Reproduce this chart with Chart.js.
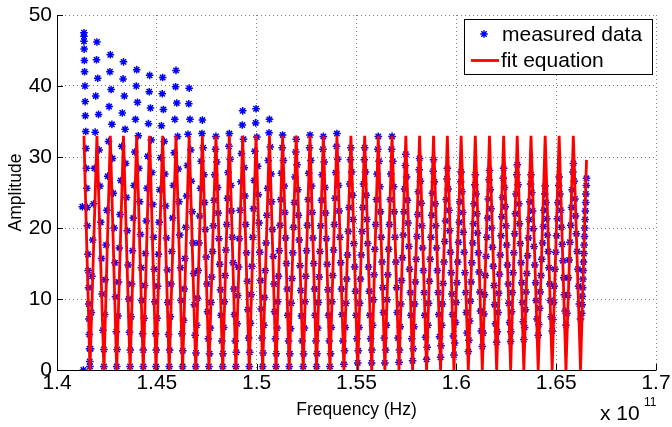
<!DOCTYPE html>
<html>
<head>
<meta charset="utf-8">
<script src="https://cdn.jsdelivr.net/npm/chart.js@4.4.0/dist/chart.umd.min.js"></script>
<style>
  html, body { margin: 0; padding: 0; background: #fff; }
  #wrap { width: 672px; height: 427px; }
</style>
</head>
<body>
<div id="wrap"><canvas id="chart" width="672" height="427"></canvas></div>
<script>
// axis ticks (frequency in units of 1e11 Hz)
const xTicks = [1.4, 1.45, 1.5, 1.55, 1.6, 1.65, 1.7];
const xTickLabels = ['1.4', '1.45', '1.5', '1.55', '1.6', '1.65', '1.7'];
const yTicks = [0, 10, 20, 30, 40, 50];
const yTickLabels = ['0', '10', '20', '30', '40', '50'];
const seriesNames = ['measured data', 'fit equation'];

// fit equation: peaks and troughs [freq, amplitude]
const fitCurve = [
  [1.4135,33],[1.4165,0],[1.4200,33],[1.4235,0],[1.4267,33],[1.4299,0],[1.4333,33],[1.4366,0],
  [1.4399,33],[1.4432,0],[1.4464,33],[1.4496,0],[1.4529,33],[1.4562,0],[1.4596,33],[1.4629,0],
  [1.4662,33],[1.4695,0],[1.4728,33],[1.4761,0],[1.4796,33],[1.4830,0],[1.4863,33],[1.4896,0],
  [1.4930,33],[1.4963,0],[1.4997,33],[1.5030,0],[1.5064,33],[1.5097,0],[1.5130,33],[1.5163,0],
  [1.5198,33],[1.5233,0],[1.5267,33],[1.5300,0],[1.5334,33],[1.5367,0],[1.5402,33],[1.5437,0],
  [1.5472,33],[1.5506,0],[1.5541,33],[1.5576,0],[1.5609,33],[1.5642,0],[1.5678,33],[1.5713,0],
  [1.5747,33],[1.5781,0],[1.5816,33],[1.5851,0],[1.5886,33],[1.5921,0],[1.5955,33],[1.5988,0],
  [1.6024,33],[1.6060,0],[1.6095,33],[1.6130,0],[1.6166,33],[1.6202,0],[1.6237,33],[1.6272,0],
  [1.6305,33],[1.6338,0],[1.6374,33],[1.6410,0],[1.6445,33],[1.6480,0],[1.6515,33],[1.6549,0],
  [1.6586,33],[1.6622,0],[1.6652,29.6]
];

// measured data, estimated column by column [freq, amplitude]
const measured = [
  [1.4127,23.0],[1.4132,0.0],[1.4135,47.5],[1.4135,47.0],[1.4135,46.3],[1.4136,45.2],[1.4137,43.6],[1.4138,42.0],[1.4140,40.0],[1.4141,37.8],[1.4142,35.8],[1.4144,33.6],[1.4145,31.2],[1.4147,28.4],[1.4149,25.6],[1.4151,22.9],[1.4152,20.3],[1.4155,16.3],[1.4156,14.0],[1.4158,11.6],[1.4159,9.3],[1.4160,7.2],[1.4162,5.0],[1.4163,3.0],[1.4164,1.2],[1.4165,0.5],
  [1.4168,3.0],[1.4172,8.1],[1.4175,13.2],[1.4179,18.3],[1.4183,23.4],[1.4187,28.4],[1.4191,33.5],[1.4194,38.6],[1.4198,43.7],[1.4200,46.2],[1.4204,41.1],[1.4208,36.0],[1.4211,31.0],[1.4215,25.9],[1.4219,20.8],[1.4223,15.7],[1.4226,10.7],[1.4230,5.6],[1.4235,0.5],
  [1.4235,2.9],[1.4239,7.8],[1.4242,12.7],[1.4246,17.6],[1.4250,22.5],[1.4254,27.3],[1.4258,32.2],[1.4261,37.1],[1.4265,42.0],[1.4267,44.4],[1.4271,39.5],[1.4275,34.6],[1.4278,29.8],[1.4282,24.9],[1.4286,20.0],[1.4290,15.1],[1.4293,10.3],[1.4297,5.4],[1.4299,0.5],
  [1.4301,2.9],[1.4305,7.6],[1.4308,12.4],[1.4312,17.2],[1.4316,21.9],[1.4320,26.7],[1.4324,31.5],[1.4327,36.2],[1.4331,41.0],[1.4333,43.4],[1.4337,38.6],[1.4341,33.9],[1.4344,29.1],[1.4348,24.3],[1.4352,19.6],[1.4356,14.8],[1.4359,10.0],[1.4363,5.3],[1.4366,0.5],
  [1.4367,2.8],[1.4371,7.5],[1.4374,12.1],[1.4378,16.8],[1.4382,21.4],[1.4386,26.0],[1.4390,30.7],[1.4393,35.3],[1.4397,40.0],[1.4399,42.3],[1.4403,37.7],[1.4407,33.0],[1.4410,28.4],[1.4414,23.7],[1.4418,19.1],[1.4422,14.4],[1.4425,9.8],[1.4429,5.1],[1.4432,0.5],
  [1.4432,2.8],[1.4436,7.3],[1.4439,11.9],[1.4443,16.4],[1.4447,21.0],[1.4451,25.6],[1.4455,30.1],[1.4458,34.7],[1.4462,39.2],[1.4464,41.5],[1.4468,36.9],[1.4472,32.4],[1.4475,27.8],[1.4479,23.3],[1.4483,18.7],[1.4487,14.2],[1.4490,9.6],[1.4494,5.1],[1.4496,0.5],
  [1.4497,2.8],[1.4501,7.3],[1.4504,11.8],[1.4508,16.3],[1.4512,20.8],[1.4516,25.4],[1.4520,29.9],[1.4523,34.4],[1.4527,38.9],[1.4529,41.2],[1.4533,36.7],[1.4537,32.2],[1.4540,27.6],[1.4544,23.1],[1.4548,18.6],[1.4552,14.1],[1.4555,9.5],[1.4559,5.0],[1.4562,0.5],
  [1.4564,2.8],[1.4568,7.5],[1.4571,12.1],[1.4575,16.7],[1.4579,21.4],[1.4583,26.0],[1.4587,30.6],[1.4590,35.3],[1.4594,39.9],[1.4596,42.2],[1.4600,37.6],[1.4604,32.9],[1.4607,28.3],[1.4611,23.7],[1.4615,19.0],[1.4619,14.4],[1.4622,9.8],[1.4626,5.1],[1.4629,0.5],
  [1.4630,2.7],[1.4634,7.0],[1.4637,11.4],[1.4641,15.7],[1.4645,20.1],[1.4649,24.5],[1.4653,28.8],[1.4656,33.2],[1.4660,37.5],[1.4662,39.7],[1.4666,35.3],[1.4670,31.0],[1.4673,26.6],[1.4677,22.3],[1.4681,17.9],[1.4685,13.6],[1.4688,9.2],[1.4692,4.9],[1.4695,0.5],
  [1.4696,2.4],[1.4700,6.3],[1.4703,10.1],[1.4707,14.0],[1.4711,17.9],[1.4715,21.7],[1.4719,25.6],[1.4722,29.4],[1.4726,33.3],[1.4728,35.2],[1.4732,31.3],[1.4736,27.5],[1.4739,23.6],[1.4743,19.8],[1.4747,15.9],[1.4751,12.1],[1.4754,8.2],[1.4758,4.4],[1.4761,0.5],
  [1.4764,2.3],[1.4768,5.9],[1.4771,9.5],[1.4775,13.1],[1.4779,16.7],[1.4783,20.3],[1.4787,23.9],[1.4790,27.5],[1.4794,31.1],[1.4796,32.9],[1.4800,29.3],[1.4804,25.7],[1.4807,22.1],[1.4811,18.5],[1.4815,14.9],[1.4819,11.3],[1.4822,7.7],[1.4826,4.1],[1.4830,0.5],
  [1.4831,2.3],[1.4835,6.0],[1.4838,9.6],[1.4842,13.3],[1.4846,16.9],[1.4850,20.5],[1.4854,24.2],[1.4857,27.8],[1.4861,31.5],[1.4863,33.3],[1.4867,29.7],[1.4871,26.0],[1.4874,22.4],[1.4878,18.7],[1.4882,15.1],[1.4886,11.4],[1.4889,7.8],[1.4893,4.1],[1.4896,0.5],
  [1.4898,2.5],[1.4902,6.5],[1.4905,10.5],[1.4909,14.5],[1.4913,18.5],[1.4917,22.5],[1.4921,26.5],[1.4924,30.5],[1.4928,34.5],[1.4930,36.5],[1.4934,32.5],[1.4938,28.5],[1.4941,24.5],[1.4945,20.5],[1.4949,16.5],[1.4953,12.5],[1.4956,8.5],[1.4960,4.5],[1.4963,0.5],
  [1.4965,2.5],[1.4969,6.6],[1.4972,10.6],[1.4976,14.6],[1.4980,18.7],[1.4984,22.7],[1.4988,26.7],[1.4991,30.8],[1.4995,34.8],[1.4997,36.8],[1.5001,32.8],[1.5005,28.7],[1.5008,24.7],[1.5012,20.7],[1.5016,16.6],[1.5020,12.6],[1.5023,8.6],[1.5027,4.5],[1.5030,0.5],
  [1.5032,2.4],[1.5036,6.3],[1.5039,10.2],[1.5043,14.0],[1.5047,17.9],[1.5051,21.8],[1.5055,25.6],[1.5058,29.5],[1.5062,33.4],[1.5064,35.3],[1.5068,31.4],[1.5072,27.6],[1.5075,23.7],[1.5079,19.8],[1.5083,16.0],[1.5087,12.1],[1.5090,8.2],[1.5094,4.4],[1.5097,0.5],
  [1.5098,2.3],[1.5102,5.9],[1.5105,9.6],[1.5109,13.2],[1.5113,16.8],[1.5117,20.4],[1.5121,24.0],[1.5124,27.7],[1.5128,31.3],[1.5130,33.1],[1.5134,29.5],[1.5138,25.9],[1.5141,22.2],[1.5145,18.6],[1.5149,15.0],[1.5153,11.4],[1.5156,7.7],[1.5160,4.1],[1.5163,0.5],
  [1.5166,2.3],[1.5170,5.8],[1.5173,9.4],[1.5177,12.9],[1.5181,16.5],[1.5185,20.1],[1.5189,23.6],[1.5192,27.2],[1.5196,30.7],[1.5198,32.5],[1.5202,28.9],[1.5206,25.4],[1.5209,21.8],[1.5213,18.3],[1.5217,14.7],[1.5221,11.2],[1.5224,7.6],[1.5228,4.1],[1.5233,0.5],
  [1.5235,2.3],[1.5239,5.9],[1.5242,9.6],[1.5246,13.2],[1.5250,16.8],[1.5254,20.4],[1.5258,24.0],[1.5261,27.7],[1.5265,31.3],[1.5267,33.1],[1.5271,29.5],[1.5275,25.9],[1.5278,22.2],[1.5282,18.6],[1.5286,15.0],[1.5290,11.4],[1.5293,7.7],[1.5297,4.1],[1.5300,0.5],
  [1.5302,2.3],[1.5306,5.9],[1.5309,9.5],[1.5313,13.1],[1.5317,16.7],[1.5321,20.3],[1.5325,23.9],[1.5328,27.5],[1.5332,31.1],[1.5334,32.9],[1.5338,29.3],[1.5342,25.7],[1.5345,22.1],[1.5349,18.5],[1.5353,14.9],[1.5357,11.3],[1.5360,7.7],[1.5364,4.1],[1.5367,0.5],
  [1.5370,2.3],[1.5374,6.0],[1.5377,9.6],[1.5381,13.3],[1.5385,16.9],[1.5389,20.5],[1.5393,24.2],[1.5396,27.8],[1.5400,31.5],[1.5402,33.3],[1.5406,29.7],[1.5410,26.0],[1.5413,22.4],[1.5417,18.7],[1.5421,15.1],[1.5425,11.4],[1.5428,7.8],[1.5432,4.1],[1.5437,0.8],
  [1.5440,2.7],[1.5444,6.0],[1.5447,9.4],[1.5451,12.8],[1.5455,16.2],[1.5459,19.5],[1.5463,22.9],[1.5466,26.2],[1.5470,29.6],[1.5472,31.3],[1.5476,27.9],[1.5480,24.6],[1.5483,21.2],[1.5487,17.8],[1.5491,14.5],[1.5495,11.1],[1.5498,7.7],[1.5502,4.4],[1.5506,1.0],
  [1.5509,2.7],[1.5513,6.0],[1.5516,9.4],[1.5520,12.8],[1.5524,16.2],[1.5528,19.5],[1.5532,22.9],[1.5535,26.2],[1.5539,29.6],[1.5541,31.3],[1.5545,27.9],[1.5549,24.6],[1.5552,21.2],[1.5556,17.8],[1.5560,14.5],[1.5564,11.1],[1.5567,7.7],[1.5571,4.4],[1.5576,1.0],
  [1.5577,2.8],[1.5581,6.3],[1.5584,9.9],[1.5588,13.4],[1.5592,17.0],[1.5596,20.5],[1.5600,24.0],[1.5603,27.6],[1.5607,31.1],[1.5609,32.9],[1.5613,29.4],[1.5617,25.8],[1.5620,22.3],[1.5624,18.7],[1.5628,15.2],[1.5632,11.6],[1.5635,8.1],[1.5639,4.5],[1.5642,1.0],
  [1.5646,2.8],[1.5650,6.3],[1.5653,9.9],[1.5657,13.4],[1.5661,17.0],[1.5665,20.5],[1.5669,24.0],[1.5672,27.6],[1.5676,31.1],[1.5678,32.9],[1.5682,29.4],[1.5686,25.8],[1.5689,22.3],[1.5693,18.7],[1.5697,15.2],[1.5701,11.6],[1.5704,8.1],[1.5708,4.5],[1.5713,1.1],
  [1.5715,2.8],[1.5719,6.1],[1.5722,9.3],[1.5726,12.6],[1.5730,15.8],[1.5734,19.0],[1.5738,22.3],[1.5741,25.5],[1.5745,28.8],[1.5747,30.4],[1.5751,27.2],[1.5755,23.9],[1.5758,20.7],[1.5762,17.4],[1.5766,14.2],[1.5770,10.9],[1.5773,7.7],[1.5777,4.4],[1.5781,1.3],
  [1.5784,3.0],[1.5788,6.1],[1.5791,9.3],[1.5795,12.4],[1.5799,15.6],[1.5803,18.8],[1.5807,21.9],[1.5810,25.1],[1.5814,28.2],[1.5816,29.8],[1.5820,26.6],[1.5824,23.5],[1.5827,20.3],[1.5831,17.2],[1.5835,14.0],[1.5839,10.9],[1.5842,7.7],[1.5846,4.6],[1.5851,1.5],
  [1.5854,3.2],[1.5858,6.3],[1.5861,9.4],[1.5865,12.5],[1.5869,15.6],[1.5873,18.7],[1.5877,21.8],[1.5880,24.9],[1.5884,28.0],[1.5886,29.6],[1.5890,26.5],[1.5894,23.4],[1.5897,20.3],[1.5901,17.2],[1.5905,14.0],[1.5909,10.9],[1.5912,7.8],[1.5916,4.7],[1.5921,1.8],
  [1.5923,3.4],[1.5927,6.3],[1.5930,9.3],[1.5934,12.2],[1.5938,15.2],[1.5942,18.1],[1.5946,21.0],[1.5949,24.0],[1.5953,26.9],[1.5955,28.4],[1.5959,25.5],[1.5963,22.5],[1.5966,19.6],[1.5970,16.6],[1.5974,13.7],[1.5978,10.7],[1.5981,7.8],[1.5985,4.8],[1.5988,2.1],
  [1.5992,3.8],[1.5996,6.7],[1.5999,9.5],[1.6003,12.3],[1.6007,15.2],[1.6011,18.0],[1.6015,20.8],[1.6018,23.7],[1.6022,26.5],[1.6024,27.9],[1.6028,25.1],[1.6032,22.2],[1.6035,19.4],[1.6039,16.6],[1.6043,13.7],[1.6047,10.9],[1.6050,8.1],[1.6054,5.2],[1.6060,2.6],
  [1.6063,4.2],[1.6067,6.9],[1.6070,9.7],[1.6074,12.4],[1.6078,15.1],[1.6082,17.9],[1.6086,20.6],[1.6089,23.4],[1.6093,26.1],[1.6095,27.5],[1.6099,24.8],[1.6103,22.0],[1.6106,19.3],[1.6110,16.5],[1.6114,13.8],[1.6118,11.0],[1.6121,8.3],[1.6125,5.5],[1.6130,3.3],
  [1.6134,5.2],[1.6138,7.9],[1.6141,10.6],[1.6145,13.3],[1.6149,16.0],[1.6153,18.7],[1.6157,21.4],[1.6160,24.1],[1.6164,26.8],[1.6166,28.1],[1.6170,25.4],[1.6174,22.7],[1.6177,20.0],[1.6181,17.3],[1.6185,14.6],[1.6189,11.9],[1.6192,9.2],[1.6196,6.5],[1.6202,3.9],
  [1.6205,5.4],[1.6209,8.1],[1.6212,10.8],[1.6216,13.5],[1.6220,16.2],[1.6224,18.9],[1.6228,21.6],[1.6231,24.3],[1.6235,27.0],[1.6237,28.4],[1.6241,25.7],[1.6245,23.0],[1.6248,20.3],[1.6252,17.6],[1.6256,14.8],[1.6260,12.1],[1.6263,9.4],[1.6267,6.7],[1.6272,4.0],
  [1.6273,5.4],[1.6277,8.2],[1.6280,10.9],[1.6284,13.7],[1.6288,16.5],[1.6292,19.2],[1.6296,22.0],[1.6299,24.8],[1.6303,27.5],[1.6305,28.9],[1.6309,26.1],[1.6313,23.4],[1.6316,20.6],[1.6320,17.8],[1.6324,15.1],[1.6328,12.3],[1.6331,9.5],[1.6335,6.8],[1.6338,4.3],
  [1.6342,6.0],[1.6346,8.5],[1.6349,11.0],[1.6353,13.6],[1.6357,16.1],[1.6361,18.6],[1.6365,21.2],[1.6368,23.7],[1.6372,26.2],[1.6374,27.5],[1.6378,25.0],[1.6382,22.4],[1.6385,19.9],[1.6389,17.4],[1.6393,14.8],[1.6397,12.3],[1.6400,9.8],[1.6404,7.2],[1.6410,4.9],
  [1.6413,6.4],[1.6417,8.7],[1.6420,11.0],[1.6424,13.3],[1.6428,15.6],[1.6432,17.9],[1.6436,20.2],[1.6439,22.5],[1.6443,24.8],[1.6445,25.9],[1.6449,23.6],[1.6453,21.3],[1.6456,19.0],[1.6460,16.7],[1.6464,14.4],[1.6468,12.1],[1.6471,9.8],[1.6475,7.5],[1.6480,5.5],
  [1.6483,7.1],[1.6487,9.5],[1.6490,11.8],[1.6494,14.2],[1.6498,16.6],[1.6502,18.9],[1.6506,21.3],[1.6509,23.6],[1.6513,26.0],[1.6515,27.2],[1.6519,24.8],[1.6523,22.5],[1.6526,20.1],[1.6530,17.7],[1.6534,15.4],[1.6538,13.0],[1.6541,10.6],[1.6545,8.3],[1.6549,6.3],
  [1.6554,8.0],[1.6558,10.5],[1.6561,13.0],[1.6565,15.5],[1.6569,18.0],[1.6573,20.4],[1.6577,22.9],[1.6580,25.4],[1.6584,27.9],[1.6586,29.1],[1.6590,26.6],[1.6594,24.1],[1.6597,21.7],[1.6601,19.2],[1.6605,16.7],[1.6609,14.2],[1.6612,11.8],[1.6616,9.3],[1.6622,7.2],
  [1.6628,8.0],[1.6630,9.2],[1.6631,10.4],[1.6633,11.6],[1.6634,12.8],[1.6636,14.0],[1.6637,15.2],[1.6639,16.4],[1.6640,17.6],[1.6642,18.8],[1.6643,20.0],[1.6645,21.2],[1.6646,22.4],[1.6648,23.6],[1.6649,24.8],[1.6651,26.0],[1.6652,27.0]
];

const FONT = '"Liberation Sans", Arial, Helvetica, sans-serif';
const BLUE = '#0000ff';
const RED = '#ff0000';

function asterisk(ctx, x, y, r) {
  const d = r * 0.7071;
  ctx.beginPath();
  ctx.moveTo(x - r, y); ctx.lineTo(x + r, y);
  ctx.moveTo(x, y - r); ctx.lineTo(x, y + r);
  ctx.moveTo(x - d, y - d); ctx.lineTo(x + d, y + d);
  ctx.moveTo(x - d, y + d); ctx.lineTo(x + d, y - d);
  ctx.stroke();
}

// axes lines, inward ticks, titles, exponent and legend box
const matlabLook = {
  id: 'matlabLook',
  afterDatasetsDraw(chart) {
    const { ctx, chartArea: a, scales: { x, y } } = chart;
    ctx.save();
    ctx.strokeStyle = '#000';
    ctx.lineWidth = 1;
    ctx.beginPath();
    ctx.moveTo(a.left + 0.5, a.top);
    ctx.lineTo(a.left + 0.5, a.bottom + 0.5);
    ctx.lineTo(a.right + 0.5, a.bottom + 0.5);
    xTicks.forEach(v => {
      const px = Math.round(x.getPixelForValue(v)) + 0.5;
      ctx.moveTo(px, a.bottom);
      ctx.lineTo(px, a.bottom - 6);
    });
    yTicks.forEach(v => {
      const py = Math.round(y.getPixelForValue(v)) + 0.5;
      ctx.moveTo(a.left, py);
      ctx.lineTo(a.left + 6, py);
    });
    ctx.stroke();

    ctx.fillStyle = '#000';
    ctx.font = '17.5px ' + FONT;
    ctx.textAlign = 'center';
    ctx.textBaseline = 'alphabetic';
    ctx.fillText('Frequency (Hz)', (a.left + a.right) / 2, 415);
    ctx.save();
    ctx.translate(21, (a.top + a.bottom) / 2);
    ctx.rotate(-Math.PI / 2);
    ctx.fillText('Amplitude', 0, 0);
    ctx.restore();

    ctx.textAlign = 'left';
    ctx.font = '21px ' + FONT;
    ctx.fillText('x 10', 600, 420);
    ctx.font = '12px ' + FONT;
    ctx.fillText('11', 644, 406);

    // legend
    const bx = 464.5, by = 19.5, bw = 188, bh = 55;
    ctx.fillStyle = '#fff';
    ctx.fillRect(bx, by, bw, bh);
    ctx.strokeStyle = '#000';
    ctx.lineWidth = 1;
    ctx.strokeRect(bx, by, bw, bh);
    ctx.strokeStyle = BLUE;
    ctx.lineWidth = 1.5;
    asterisk(ctx, 484, 34, 3.8);
    ctx.strokeStyle = RED;
    ctx.lineWidth = 2.8;
    ctx.beginPath();
    ctx.moveTo(471, 60.5);
    ctx.lineTo(499, 60.5);
    ctx.stroke();
    ctx.fillStyle = '#000';
    ctx.font = '21px ' + FONT;
    ctx.textBaseline = 'middle';
    ctx.fillText(seriesNames[0], 502, 35);
    ctx.fillText(seriesNames[1], 501, 61);
    ctx.restore();
  }
};

new Chart(document.getElementById('chart').getContext('2d'), {
  type: 'scatter',
  data: {
    datasets: [
      {
        label: seriesNames[1],
        data: fitCurve,
        showLine: true,
        borderColor: RED,
        borderWidth: 2.8,
        pointRadius: 0,
        tension: 0,
        fill: false
      },
      {
        label: seriesNames[0],
        data: measured,
        pointStyle: 'star',
        pointRadius: 3.8,
        pointBorderWidth: 1.5,
        borderColor: BLUE,
        backgroundColor: BLUE,
        showLine: false
      }
    ]
  },
  options: {
    responsive: false,
    animation: false,
    events: [],
    devicePixelRatio: 1,
    layout: { padding: { left: 0, right: 16, top: 15, bottom: 0 } },
    plugins: { legend: { display: false }, tooltip: { enabled: false } },
    scales: {
      x: {
        type: 'linear',
        min: 1.4,
        max: 1.7,
        afterBuildTicks: s => { s.ticks = xTicks.map(v => ({ value: v })); },
        afterFit: s => { s.height = 57; s.paddingLeft = 0; s.paddingRight = 0; },
        ticks: {
          callback: (v, i) => xTickLabels[i],
          color: '#000',
          padding: 1,
          maxRotation: 0,
          font: { family: FONT, size: 21 }
        },
        grid: { color: '#808080', lineWidth: 1, drawTicks: false },
        border: { display: false, dash: [1, 3] }
      },
      y: {
        type: 'linear',
        min: 0,
        max: 50,
        afterBuildTicks: s => { s.ticks = yTicks.map(v => ({ value: v })); },
        afterFit: s => { s.width = 57; s.paddingTop = 0; s.paddingBottom = 0; },
        ticks: {
          callback: (v, i) => yTickLabels[i],
          color: '#000',
          padding: 5,
          font: { family: FONT, size: 21 }
        },
        grid: { color: '#808080', lineWidth: 1, drawTicks: false },
        border: { display: false, dash: [1, 3] }
      }
    }
  },
  plugins: [matlabLook]
});
</script>
</body>
</html>
